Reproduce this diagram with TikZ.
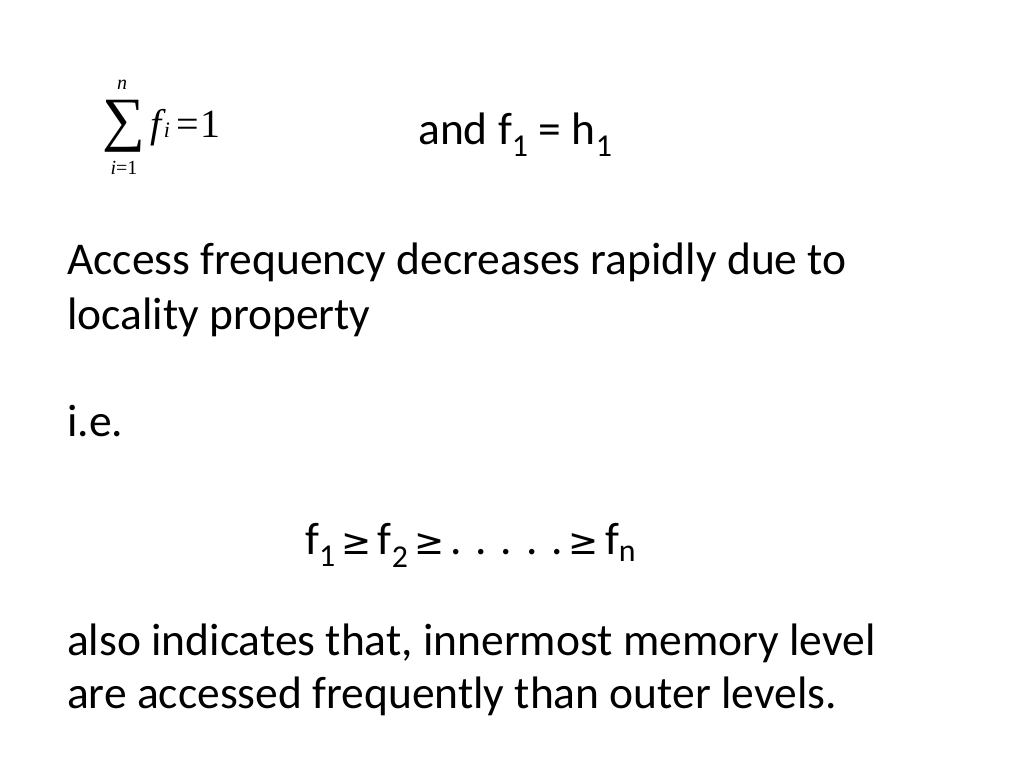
\documentclass[tikz,border=0pt]{standalone}
\usepackage{fontspec}
\usepackage{amsmath}
\setmainfont{Carlito}
\newfontfamily\timesfont{Liberation Serif}
\newfontfamily\symfont{DejaVu Sans}
\begin{document}
\begin{tikzpicture}[x=1pt,y=1pt,
  slide/.style={anchor=base west,inner sep=0pt,font=\fontsize{45.5}{55}\selectfont},
  frm/.style={inner sep=0pt,font=\timesfont\fontsize{26}{30}\selectfont}]
 \useasboundingbox (0,0) rectangle (1024,768);
 % summation formula
 \node[frm,font=\timesfont\fontsize{60}{64}\selectfont] (sig) at (124,642) {∑};
 \node[frm,font=\timesfont\itshape\fontsize{20}{22}\selectfont] (up) at (122,683) {n};
 \node[frm,font=\timesfont\fontsize{20}{22}\selectfont] (lo) at (124,600) {\textit{i}=1};
 \node[frm,anchor=base west,font=\timesfont\fontsize{40}{44}\selectfont] (fi) at (150,630)
  {\textit{f}\kern-2pt{\fontsize{22}{24}\selectfont\textit{i}}\kern6pt=\kern2pt1};
 \node[slide] (and) at (418,623) {and f\textsubscript{1} = h\textsubscript{1}};
 % body text
 \node[slide] (acc) at (67,493) {Access frequency decreases rapidly due to};
 \node[slide] (loc) at (67,438) {locality property};
 \node[slide] (ie) at (67,331) {i.e.};
 \node[slide] (ord) at (305,213) {f\textsubscript{1}\kern6pt{\symfont\fontsize{36}{40}\selectfont ≥}\kern6pt f\textsubscript{2}\kern6pt{\symfont\fontsize{36}{40}\selectfont ≥}\kern6pt . . . . .\kern6pt{\symfont\fontsize{36}{40}\selectfont ≥}\kern6pt f\textsubscript{n}};
 \node[slide] (also) at (67,113) {also indicates that, innermost memory level};
 \node[slide] (are) at (67,60) {are accessed frequently than outer levels.};
\end{tikzpicture}
\end{document}
